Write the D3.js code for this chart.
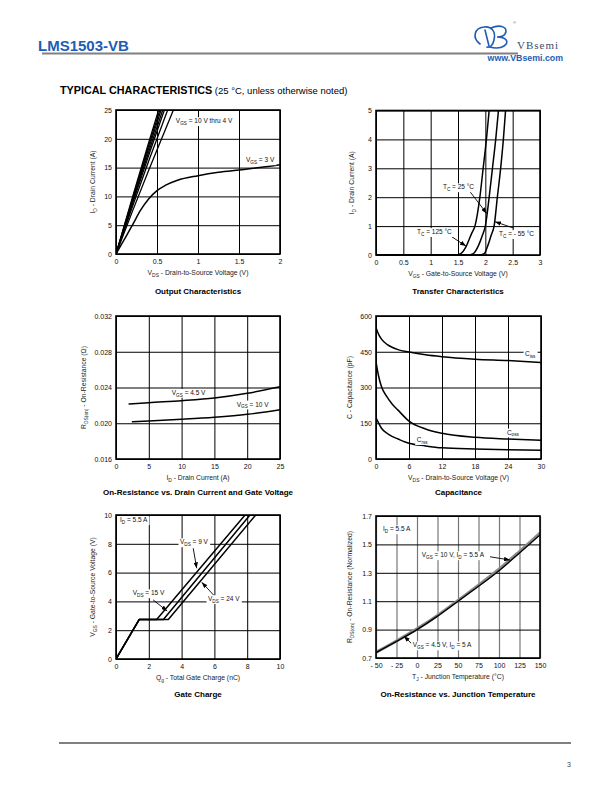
<!DOCTYPE html>
<html><head><meta charset="utf-8">
<script src="https://cdn.jsdelivr.net/npm/d3@7"></script>
<style>
body{margin:0;background:#fff}
svg{display:block}
</style></head><body>
<svg id="page" width="612" height="792"></svg>
<script>
// ================= DATA =================
// Output Characteristics (x: VDS in V, y: ID in A)
const outXTicks = [0, 0.5, 1, 1.5, 2];
const outXLabels = ["0", "0.5", "1", "1.5", "2"];
const outYTicks = [0, 5, 10, 15, 20, 25];
const outYLabels = ["0", "5", "10", "15", "20", "25"];
const outVgs10 = [[0,0],[0.2,9.8],[0.4,19.4],[0.52,25]];
const outVgs9  = [[0,0],[0.2,9.5],[0.4,18.9],[0.535,25]];
const outVgs8  = [[0,0],[0.2,9.3],[0.4,18.4],[0.55,25]];
const outVgs7  = [[0,0],[0.2,9.0],[0.4,17.8],[0.57,25]];
const outVgs6  = [[0,0],[0.2,8.7],[0.4,17.2],[0.59,25]];
const outVgs5  = [[0,0],[0.2,8.2],[0.4,16.2],[0.63,25]];
const outVgs4  = [[0,0],[0.2,7.4],[0.4,14.6],[0.70,25]];
const outVgs3  = [[0,0],[0.1,2.5],[0.2,5.0],[0.3,7.6],[0.4,9.6],[0.5,11.0],[0.6,11.9],[0.75,12.8],[1.0,13.6],[1.25,14.2],[1.5,14.6],[1.75,15.0],[2.0,15.5]];

// Transfer Characteristics (x: VGS in V, y: ID in A)
const trXTicks = [0, 0.5, 1, 1.5, 2, 2.5, 3];
const trXLabels = ["0", "0.5", "1", "1.5", "2", "2.5", "3"];
const trYTicks = [0, 1, 2, 3, 4, 5];
const trYLabels = ["0", "1", "2", "3", "4", "5"];
const trT125 = [[0,0],[1.45,0],[1.55,0.05],[1.65,0.3],[1.75,0.75],[1.81,1.0],[1.90,2.0],[1.96,3.0],[2.02,4.0],[2.07,5.0]];
const trT25  = [[0,0],[1.68,0],[1.78,0.05],[1.88,0.35],[1.95,0.7],[2.0,1.0],[2.07,2.0],[2.13,3.0],[2.19,4.0],[2.24,5.0]];
const trTm55 = [[0,0],[1.88,0],[1.98,0.05],[2.05,0.35],[2.11,0.7],[2.16,1.0],[2.22,2.0],[2.28,3.0],[2.33,4.0],[2.37,5.0]];

// On-Resistance vs Drain Current (x: ID in A, y: RDS(on) in ohm)
const ronXTicks = [0, 5, 10, 15, 20, 25];
const ronXLabels = ["0", "5", "10", "15", "20", "25"];
const ronYTicks = [0.016, 0.020, 0.024, 0.028, 0.032];
const ronYLabels = ["0.016", "0.020", "0.024", "0.028", "0.032"];
const ronVgs45 = [[2,0.02215],[5,0.0223],[10,0.02252],[15,0.02282],[20,0.02335],[25,0.02409]];
const ronVgs10 = [[2.5,0.02017],[5,0.02025],[10,0.02044],[15,0.02067],[20,0.0210],[25,0.02152]];

// Capacitance (x: VDS in V, y: C in pF)
const capXTicks = [0, 6, 12, 18, 24, 30];
const capXLabels = ["0", "6", "12", "18", "24", "30"];
const capYTicks = [0, 150, 300, 450, 600];
const capYLabels = ["0", "150", "300", "450", "600"];
const capCiss = [[0,551],[0.5,522],[1,503],[2,481],[3,468],[4,459],[6,449],[9,437],[12,429],[18,419],[24,413],[30,405]];
const capCoss = [[0,408],[0.5,345],[1,303],[2,261],[3,229],[4,205],[6,159],[9,126],[12,108],[18,91],[24,84],[30,79]];
const capCrss = [[0,173],[0.5,150],[1,129],[2,108],[3,94],[4,84],[6,66],[9,55],[12,47],[18,42],[24,39],[30,37]];

// Gate Charge (x: Qg in nC, y: VGS in V)
const gcXTicks = [0, 2, 4, 6, 8, 10];
const gcXLabels = ["0", "2", "4", "6", "8", "10"];
const gcYTicks = [0, 2, 4, 6, 8, 10];
const gcYLabels = ["0", "2", "4", "6", "8", "10"];
const gcVds9  = [[0,0],[1.42,2.75],[2.48,2.75],[7.87,10]];
const gcVds15 = [[0,0],[1.42,2.75],[2.89,2.75],[8.17,10]];
const gcVds24 = [[0,0],[1.42,2.75],[3.19,2.75],[8.52,10]];

// On-Resistance vs Junction Temperature (x: TJ in degC, y: normalized RDS(on))
const tjXTicks = [-50, -25, 0, 25, 50, 75, 100, 125, 150];
const tjXLabels = ["- 50", "- 25", "0", "25", "50", "75", "100", "125", "150"];
const tjYTicks = [0.7, 0.9, 1.1, 1.3, 1.5, 1.7];
const tjYLabels = ["0.7", "0.9", "1.1", "1.3", "1.5", "1.7"];
const tjVgs45 = [[-50,0.74],[-25,0.82],[0,0.905],[25,1.0],[50,1.105],[75,1.213],[100,1.325],[125,1.45],[150,1.58]];
const tjVgs10 = [[-50,0.738],[-25,0.817],[0,0.9],[25,0.995],[50,1.1],[75,1.205],[100,1.315],[125,1.44],[150,1.567]];

// ================= DRAWING =================
const FONT = '"Liberation Sans", Arial, Helvetica, sans-serif';
const svg = d3.select("#page");
const defs = svg.append("defs");
defs.append("marker").attr("id","arr").attr("viewBox","0 0 8 6")
  .attr("refX",8).attr("refY",3).attr("markerWidth",6).attr("markerHeight",4.5)
  .attr("markerUnits","userSpaceOnUse").attr("orient","auto")
  .append("path").attr("d","M0,0 L8,3 L0,6 Z").attr("fill","#000");

function rich(t, str, size){
  const parts = str.split(/_\{([^}]*)\}/);
  let shifted = false;
  parts.forEach((p,i)=>{
    if(p === "") return;
    const ts = t.append("tspan").text(p);
    if(i % 2 === 1){ ts.attr("font-size", size*0.72).attr("dy", size*0.28); shifted = true; }
    else if(shifted){ ts.attr("dy", -size*0.28); shifted = false; }
  });
  return t;
}

function label(g, x, y, str, size, opts={}){
  const t = g.append("text").attr("x",x).attr("y",y).attr("dy","0.35em")
    .attr("font-family",FONT).attr("font-size",size).attr("fill",opts.fill||"#111")
    .attr("text-anchor",opts.anchor||"start");
  if(opts.weight) t.attr("font-weight",opts.weight);
  rich(t, str, size);
  if(opts.bg){
    const b = t.node().getBBox();
    g.insert("rect", () => t.node()).attr("x",b.x-1.5).attr("y",b.y).attr("width",b.width+3).attr("height",b.height).attr("fill","#fff");
  }
  return t;
}

let clipN = 0;
function panel(o){
  const g = svg.append("g");
  const x = d3.scaleLinear().domain(o.xd).range([o.left,o.right]);
  const y = d3.scaleLinear().domain(o.yd).range([o.bottom,o.top]);
  const w = o.right-o.left, h = o.bottom-o.top;

  const ax = g.append("g").attr("transform",`translate(0,${o.bottom})`)
    .call(d3.axisBottom(x).tickValues(o.xt).tickFormat((d,i)=>o.xl[i]).tickSize(-h).tickPadding(5));
  ax.select(".domain").remove();
  ax.selectAll("line").attr("stroke",o.vgrid||"#000").attr("stroke-width",o.vgridW||1);
  ax.selectAll("text").attr("font-size",7).attr("font-family",FONT).attr("fill","#111");

  const ay = g.append("g").attr("transform",`translate(${o.left},0)`)
    .call(d3.axisLeft(y).tickValues(o.yt).tickFormat((d,i)=>o.yl[i]).tickSize(-w).tickPadding(4));
  ay.select(".domain").remove();
  ay.selectAll("line").attr("stroke","#000").attr("stroke-width",1);
  ay.selectAll("text").attr("font-size",7).attr("font-family",FONT).attr("fill","#111");

  const id = "clip" + (clipN++);
  defs.append("clipPath").attr("id",id).append("rect")
    .attr("x",o.left).attr("y",o.top).attr("width",w).attr("height",h);

  const cg = g.append("g").attr("clip-path",`url(#${id})`);
  o.series.forEach(s=>{
    const line = d3.line().x(d=>x(d[0])).y(d=>y(d[1])).curve(s.curve||d3.curveMonotoneX);
    cg.append("path").attr("d",line(s.data)).attr("fill","none")
      .attr("stroke",s.color||"#000").attr("stroke-width",s.w||1.5)
      .attr("stroke-linejoin","round").attr("stroke-linecap","round");
  });

  g.append("rect").attr("x",o.left).attr("y",o.top).attr("width",w).attr("height",h)
    .attr("fill","none").attr("stroke","#000").attr("stroke-width",1.6);

  (o.arrows||[]).forEach(a=>{
    g.append("line").attr("x1",x(a[0])).attr("y1",y(a[1])).attr("x2",x(a[2])).attr("y2",y(a[3]))
      .attr("stroke","#000").attr("stroke-width",0.9).attr("marker-end","url(#arr)");
  });
  (o.labels||[]).forEach(l=>{
    label(g, x(l[0]), y(l[1]), l[2], 6.5, {bg:true});
  });

  label(g, (o.left+o.right)/2, o.bottom+19, o.xTitle, 6.8, {anchor:"middle", fill:"#222"});
  const yt = g.append("g").attr("transform",`translate(${o.yTitleX},${(o.top+o.bottom)/2}) rotate(-90)`);
  label(yt, 0, 0, o.yTitle, 6.8, {anchor:"middle", fill:"#222"});
  label(g, (o.left+o.right)/2, o.titleY, o.title, 8, {anchor:"middle", fill:"#000", weight:"bold"});
}

// ---------- header ----------
svg.append("text").attr("x",38).attr("y",51).attr("font-family",FONT).attr("font-weight","bold")
  .attr("font-size",15).attr("fill","#1d5db5").text("LMS1503-VB");
svg.append("line").attr("x1",42).attr("x2",518).attr("y1",53.5).attr("y2",53.5)
  .attr("stroke","#808080").attr("stroke-width",2);
// logo
const logo = svg.append("g").attr("fill","none").attr("stroke","#1d5db5").attr("stroke-linecap","round");
logo.append("path").attr("d","M480,44 C472,38 474,28 484,27 C492,26 496,32 494,40 C493,45 490,48 487,47")
  .attr("stroke-width",1.6);
logo.append("path").attr("d","M485,30 L489,46 M491,28 C500,24 509,27 505,34 C503,37 499,37 497,37 C506,37 510,42 504,46 C500,49 493,48 490,47")
  .attr("stroke-width",1.6);
svg.append("text").attr("x",513).attr("y",24).attr("font-family",FONT).attr("font-size",4).attr("fill","#666").text("®");
svg.append("text").attr("x",517).attr("y",49).attr("font-family",'"Liberation Serif","Times New Roman",serif')
  .attr("font-size",11).attr("letter-spacing",1).attr("fill","#3a4a6a").text("VBsemi");
svg.append("text").attr("x",563).attr("y",61).attr("text-anchor","end").attr("font-family",FONT).attr("font-weight","bold")
  .attr("font-size",8.8).attr("fill","#1d5db5").text("www.VBsemi.com");

const ht = svg.append("text").attr("x",60).attr("y",94).attr("font-family",FONT).attr("fill","#000");
ht.append("tspan").attr("font-weight","bold").attr("font-size",10.8).text("TYPICAL CHARACTERISTICS");
ht.append("tspan").attr("font-size",9.5).text(" (25 °C, unless otherwise noted)");

// ---------- panels ----------
panel({
  left:116, right:280, top:110, bottom:254,
  xd:[0,2], yd:[0,25], xt:outXTicks, xl:outXLabels, yt:outYTicks, yl:outYLabels,
  series:[outVgs10,outVgs9,outVgs8,outVgs7,outVgs6,outVgs5,outVgs4].map(d=>({data:d,curve:d3.curveLinear,w:1.3}))
    .concat([{data:outVgs3}]),
  labels:[[0.73,23.1,"V_{GS} = 10 V thru 4 V"],[1.585,16.3,"V_{GS} = 3 V"]],
  xTitle:"V_{DS} - Drain-to-Source Voltage (V)", yTitle:"I_{D} - Drain Current (A)", yTitleX:93,
  title:"Output Characteristics", titleY:291
});

panel({
  left:376, right:540, top:110.5, bottom:255,
  xd:[0,3], yd:[0,5], xt:trXTicks, xl:trXLabels, yt:trYTicks, yl:trYLabels,
  series:[{data:trT125},{data:trT25},{data:trTm55}],
  arrows:[[1.385,0.633,1.646,0.31],[1.72,2.19,2.025,1.44],[2.52,0.93,2.177,1.15]],
  labels:[[1.225,2.35,"T_{C} = 25 °C"],[0.75,0.8,"T_{C} = 125 °C"],[2.25,0.73,"T_{C} = - 55 °C"]],
  xTitle:"V_{GS} - Gate-to-Source Voltage (V)", yTitle:"I_{D} - Drain Current (A)", yTitleX:352,
  title:"Transfer Characteristics", titleY:291
});

panel({
  left:116, right:280, top:316, bottom:459,
  xd:[0,25], yd:[0.016,0.032], xt:ronXTicks, xl:ronXLabels, yt:ronYTicks, yl:ronYLabels,
  series:[{data:ronVgs45},{data:ronVgs10}],
  labels:[[8.5,0.02342,"V_{GS} = 4.5 V"],[18.4,0.02212,"V_{GS} = 10 V"]],
  xTitle:"I_{D} - Drain Current (A)", yTitle:"R_{DS(on)} - On-Resistance (Ω)", yTitleX:84,
  title:"On-Resistance vs. Drain Current and Gate Voltage", titleY:492
});

panel({
  left:376, right:541, top:316, bottom:459,
  xd:[0,30], yd:[0,600], xt:capXTicks, xl:capXLabels, yt:capYTicks, yl:capYLabels,
  series:[{data:capCiss},{data:capCoss},{data:capCrss}],
  labels:[[27.1,443,"C_{iss}"],[23.8,112,"C_{oss}"],[7.4,80,"C_{rss}"]],
  xTitle:"V_{DS} - Drain-to-Source Voltage (V)", yTitle:"C - Capacitance (pF)", yTitleX:350,
  title:"Capacitance", titleY:492
});

panel({
  left:116, right:280, top:515, bottom:659,
  xd:[0,10], yd:[0,10], xt:gcXTicks, xl:gcXLabels, yt:gcYTicks, yl:gcYLabels,
  series:[gcVds9,gcVds15,gcVds24].map(d=>({data:d,curve:d3.curveLinear})),
  arrows:[[4.71,7.69,4.92,6.3],[2.27,4.1,3.12,3.33],[6.04,4.33,5.23,5.33]],
  labels:[[0.24,9.65,"I_{D} = 5.5 A"],[3.9,8.12,"V_{DS} = 9 V"],[1.02,4.58,"V_{DS} = 15 V"],[5.61,4.17,"V_{DS} = 24 V"]],
  xTitle:"Q_{g} - Total Gate Charge (nC)", yTitle:"V_{GS} - Gate-to-Source Voltage (V)", yTitleX:93,
  title:"Gate Charge", titleY:694
});

panel({
  left:376, right:540, top:516, bottom:658,
  xd:[-50,150], yd:[0.7,1.7], xt:tjXTicks, xl:tjXLabels, yt:tjYTicks, yl:tjYLabels,
  vgrid:"#777", vgridW:1.2,
  series:[{data:tjVgs45,color:"#888",w:3},{data:tjVgs10,color:"#000",w:1.3}],
  arrows:[[89,1.413,113.4,1.39],[-6.5,0.8,-15.9,0.855]],
  labels:[[-41.5,1.608,"I_{D} = 5.5 A"],[5.7,1.425,"V_{GS} = 10 V, I_{D} = 5.5 A"],[-5.2,0.79,"V_{GS} = 4.5 V, I_{D} = 5 A"]],
  xTitle:"T_{J} - Junction Temperature (°C)", yTitle:"R_{DS(on)} - On-Resistance (Normalized)", yTitleX:350,
  title:"On-Resistance vs. Junction Temperature", titleY:694
});

// ---------- footer ----------
svg.append("line").attr("x1",59).attr("x2",571).attr("y1",743).attr("y2",743).attr("stroke","#000").attr("stroke-width",1);
svg.append("text").attr("x",571).attr("y",767).attr("text-anchor","end").attr("font-family",FONT)
  .attr("font-size",7).attr("fill","#444").text("3");
</script>
</body></html>
